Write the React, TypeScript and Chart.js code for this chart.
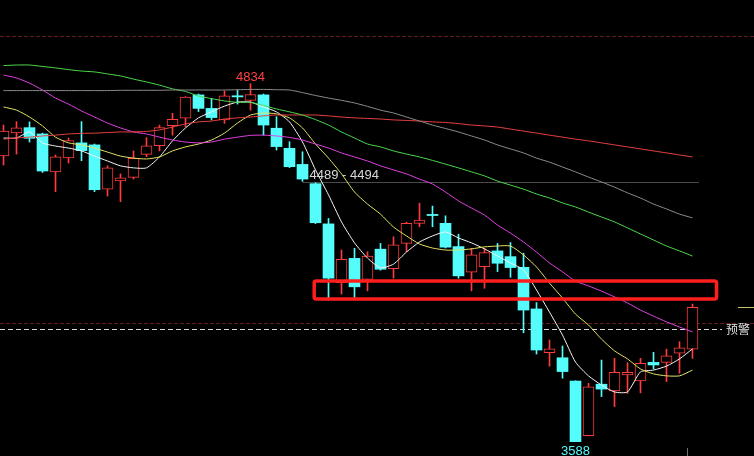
import React, { useEffect, useRef } from "react";
import { Chart, registerables } from "chart.js";

Chart.register(...registerables);

// ---------- data ----------
const opens = [4583,4663,4681,4659,4527,4576,4628,4621,4467,4496,4508,4588,4618,4688,4714,4795,4748,4708,4792,4776,4795,4679,4609,4553,4486,4346,4141,4226,4153,4258,4190,4278,4348,4379,4348,4267,4178,4197,4252,4232,4195,4050,3898,3880,3799,3609,3788,3765,3820,3799,3864,3864,3896,3910];
const highs = [4690,4702,4701,4662,4586,4645,4702,4624,4548,4520,4600,4646,4690,4731,4789,4798,4783,4809,4812,4834,4798,4719,4632,4597,4489,4365,4255,4261,4249,4278,4301,4352,4418,4408,4374,4310,4261,4261,4278,4281,4244,4072,3942,3921,3800,3791,3872,3878,3863,3878,3899,3910,3936,4067];
const lows = [4551,4589,4631,4525,4458,4558,4566,4458,4443,4423,4502,4580,4600,4655,4684,4737,4708,4696,4763,4742,4655,4603,4542,4494,4347,4081,4102,4090,4113,4185,4157,4249,4336,4336,4262,4157,4113,4122,4180,4160,3967,3893,3851,3809,3588,3608,3745,3710,3756,3758,3841,3797,3826,3878];
const closes = [4669,4680,4644,4530,4579,4636,4601,4465,4541,4506,4574,4618,4681,4710,4787,4748,4716,4792,4788,4796,4690,4615,4545,4502,4350,4157,4223,4127,4234,4188,4273,4348,4359,4375,4265,4165,4238,4246,4209,4194,4046,3907,3911,3832,3588,3779,3771,3829,3829,3861,3855,3887,3915,4056];

const maWhite = [4645,4645,4666,4628,4617,4610,4600,4582,4565,4548,4541,4541,4579,4635,4680,4715,4736,4756,4770,4770,4753,4736,4701,4631,4534,4447,4353,4280,4227,4193,4206,4248,4283,4304,4318,4297,4280,4259,4234,4210,4186,4116,4039,3959,3865,3817,3785,3761,3761,3831,3837,3851,3876,3911];
const maYellow = [4753,4742,4718,4687,4648,4628,4621,4610,4596,4582,4575,4572,4579,4600,4614,4624,4638,4662,4697,4725,4732,4729,4715,4680,4624,4575,4520,4457,4415,4380,4335,4304,4276,4262,4255,4255,4259,4266,4269,4269,4238,4196,4140,4088,4032,3994,3945,3904,3876,3841,3824,3817,3817,3837];
const maMagenta = [4864,4854,4836,4812,4784,4763,4739,4718,4697,4680,4666,4659,4648,4638,4631,4628,4631,4641,4648,4654,4655,4652,4647,4638,4624,4610,4593,4579,4565,4548,4534,4520,4502,4485,4457,4426,4401,4377,4342,4314,4283,4248,4210,4179,4147,4130,4112,4092,4071,4046,4025,4005,3987,3970];
const maRed = [4641,4645,4648,4652,4655,4659,4661,4662,4664,4666,4666,4668,4673,4683,4694,4701,4704,4711,4715,4718,4722,4725,4725,4725,4725,4722,4718,4715,4713,4711,4708,4706,4704,4701,4699,4695,4690,4687,4683,4676,4669,4662,4655,4648,4641,4635,4628,4621,4614,4607,4600,4593,4586,4579];
const maGreen = [4897,4899,4899,4894,4889,4883,4878,4875,4868,4861,4850,4840,4829,4816,4807,4791,4782,4774,4769,4769,4758,4746,4736,4725,4709,4690,4666,4645,4624,4614,4600,4589,4579,4567,4554,4541,4527,4513,4495,4481,4467,4450,4436,4419,4405,4387,4370,4353,4332,4311,4290,4269,4252,4234];
const maGray = [4810,4810,4810,4810,4810,4810,4810,4810,4810,4811,4811,4811,4811,4812,4812,4812,4812,4812,4813,4814,4814,4813,4812,4803,4793,4784,4776,4767,4755,4742,4732,4718,4704,4690,4678,4666,4652,4638,4621,4607,4593,4575,4561,4544,4527,4509,4492,4474,4454,4436,4415,4398,4380,4367];

const dashedLevels = [5000, 4000];
const warningLevel = 3980;
const warningText = "预警";
const gapLow = 4489;
const gapHigh = 4494;
const gapLineLevel = 4493;
const gapFromIndex = 23;
const gapToIndex = 53.5;
const boxFromIndex = 23.9;
const boxToIndex = 54.85;
const boxTop = 4147;
const boxBottom = 4085;
const stubLevel = 4057;
const stubFrom = 56.5;
const stubTo = 57.8;
const cursorIndex = 52.6;
const cursorLevel = 3566;

const X_MIN = -0.26923;
const X_MAX = 57.73077;
const Y_MIN = 3538.1;
const Y_MAX = 5125.3;

const UP = "#ff3c3c";
const DOWN = "#54fcfc";

const overlayPlugin = {
  id: "overlay",
  beforeDatasetsDraw(chart: any) {
    const { ctx, chartArea, scales } = chart;
    const x = scales.x;
    const y = scales.y;
    ctx.save();
    ctx.lineWidth = 1;
    ctx.strokeStyle = "#5e1e1e";
    ctx.setLineDash([4, 2]);
    for (const lv of dashedLevels) {
      const py = Math.round(y.getPixelForValue(lv)) + 0.5;
      ctx.beginPath();
      ctx.moveTo(chartArea.left, py);
      ctx.lineTo(chartArea.right, py);
      ctx.stroke();
    }
    ctx.strokeStyle = "#dcdcdc";
    ctx.setLineDash([5, 3]);
    const wy = Math.round(y.getPixelForValue(warningLevel)) + 0.5;
    ctx.beginPath();
    ctx.moveTo(chartArea.left, wy);
    ctx.lineTo(chartArea.right - 32, wy);
    ctx.stroke();
    ctx.setLineDash([]);
    ctx.strokeStyle = "#4a4a4a";
    const gy = Math.round(y.getPixelForValue(gapLineLevel)) + 0.5;
    ctx.beginPath();
    ctx.moveTo(x.getPixelForValue(gapFromIndex), gy);
    ctx.lineTo(x.getPixelForValue(gapToIndex), gy);
    ctx.stroke();
    ctx.restore();
  },
  afterDatasetsDraw(chart: any) {
    const { ctx, chartArea, scales } = chart;
    const x = scales.x;
    const y = scales.y;
    ctx.save();
    // high / low labels
    const hi = Math.max(...highs);
    const hiIdx = highs.indexOf(hi);
    const lo = Math.min(...lows);
    const loIdx = lows.indexOf(lo);
    ctx.font = '13px "Liberation Sans", Arial, sans-serif';
    ctx.textAlign = "center";
    ctx.textBaseline = "alphabetic";
    ctx.fillStyle = "#ff4040";
    ctx.fillText(String(hi), x.getPixelForValue(hiIdx), y.getPixelForValue(hi) - 3);
    ctx.fillStyle = DOWN;
    ctx.fillText(String(lo), x.getPixelForValue(loIdx), y.getPixelForValue(lo) + 13.5);
    // gap label
    ctx.textAlign = "left";
    ctx.fillStyle = "#d8d8d8";
    const gy = y.getPixelForValue(gapLineLevel);
    ctx.fillText(`${gapLow} - ${gapHigh}`, x.getPixelForValue(gapFromIndex) + 7, gy - 2.5);
    // warning text
    ctx.font = '12px "Noto Sans CJK SC", sans-serif';
    ctx.textBaseline = "middle";
    ctx.fillStyle = "#e0e0e0";
    ctx.fillText(warningText, chartArea.right - 28, y.getPixelForValue(warningLevel));
    // red box
    const bx1 = x.getPixelForValue(boxFromIndex);
    const bx2 = x.getPixelForValue(boxToIndex);
    const by1 = y.getPixelForValue(boxTop);
    const by2 = y.getPixelForValue(boxBottom);
    ctx.strokeStyle = "#ff1e1e";
    ctx.lineWidth = 3.5;
    ctx.beginPath();
    if ((ctx as any).roundRect) (ctx as any).roundRect(bx1, by1, bx2 - bx1, by2 - by1, 2);
    else ctx.rect(bx1, by1, bx2 - bx1, by2 - by1);
    ctx.stroke();
    // small stub at right
    ctx.lineWidth = 1;
    ctx.strokeStyle = "#c8c860";
    const sy = Math.round(y.getPixelForValue(stubLevel)) + 0.5;
    ctx.beginPath();
    ctx.moveTo(x.getPixelForValue(stubFrom), sy);
    ctx.lineTo(x.getPixelForValue(stubTo), sy);
    ctx.stroke();
    // cursor tick
    ctx.strokeStyle = "#707070";
    const cx = Math.round(x.getPixelForValue(cursorIndex)) + 0.5;
    ctx.beginPath();
    ctx.moveTo(cx, y.getPixelForValue(cursorLevel));
    ctx.lineTo(cx, chartArea.bottom);
    ctx.stroke();
    ctx.restore();
  },
};

function lineDs(values: number[], color: string) {
  return {
    type: "line" as const,
    data: values.map((v, i) => ({ x: i, y: v })),
    borderColor: color,
    borderWidth: 1,
    pointRadius: 0,
    tension: 0.2,
    order: 1,
  };
}

export default function App() {
  const ref = useRef<HTMLCanvasElement | null>(null);
  useEffect(() => {
    if (!ref.current) return;
    const isUp = opens.map((o, i) => closes[i] >= o);
    const chart = new Chart(ref.current, {
      type: "bar",
      data: {
        datasets: [
          lineDs(maGray, "#8a8a8a"),
          lineDs(maGreen, "#4cd84c"),
          lineDs(maRed, "#e84040"),
          lineDs(maMagenta, "#e040e0"),
          lineDs(maYellow, "#e2e264"),
          lineDs(maWhite, "#f4f4f4"),
          {
            type: "bar" as const,
            data: highs.map((h, i) => ({ x: i, y: [lows[i], h] })) as any,
            backgroundColor: isUp.map((u) => (u ? UP : DOWN)),
            borderWidth: 0,
            barThickness: 1,
            grouped: false,
            order: 3,
          } as any,
          {
            type: "bar" as const,
            data: opens.map((o, i) => ({ x: i, y: [Math.min(o, closes[i]), Math.max(o, closes[i])] })) as any,
            backgroundColor: isUp.map((u) => (u ? "#000000" : DOWN)),
            borderColor: isUp.map((u) => (u ? UP : DOWN)),
            borderWidth: isUp.map((u) => (u ? 1 : 0)),
            borderSkipped: false,
            barThickness: 11,
            grouped: false,
            order: 2,
          } as any,
        ],
      },
      options: {
        responsive: false,
        maintainAspectRatio: false,
        animation: false,
        layout: { padding: 0 },
        plugins: { legend: { display: false }, tooltip: { enabled: false } },
        scales: {
          x: { type: "linear", min: X_MIN, max: X_MAX, display: false, offset: false },
          y: { type: "linear", min: Y_MIN, max: Y_MAX, display: false },
        },
      } as any,
      plugins: [overlayPlugin],
    });
    return () => chart.destroy();
  }, []);
  return (
    <div style={{ position: "fixed", left: 0, top: 0, width: 754, height: 456, background: "#000" }}>
      <canvas ref={ref} width={754} height={456} style={{ display: "block", width: 754, height: 456 }} />
    </div>
  );
}
